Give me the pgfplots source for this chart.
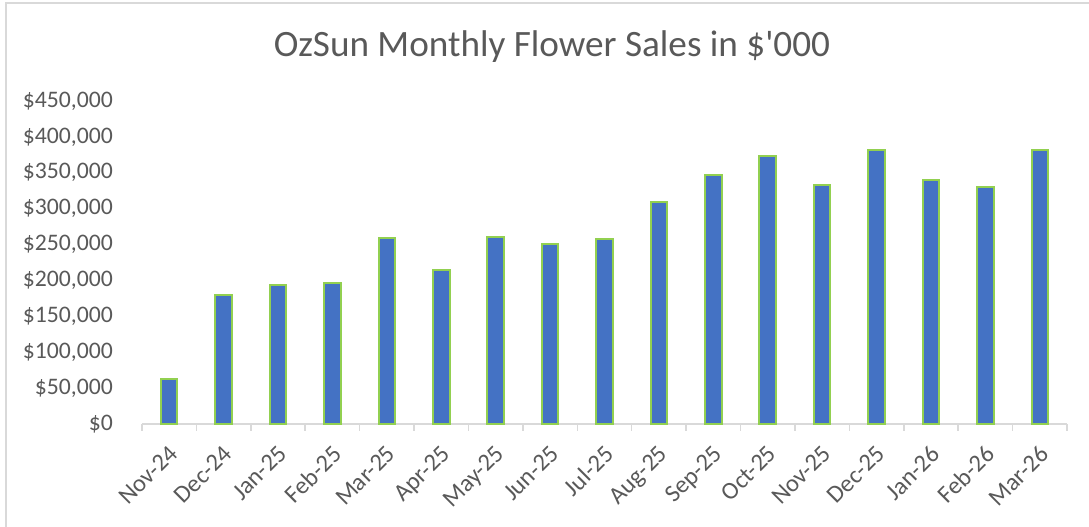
\documentclass[border=0pt]{standalone}
\usepackage{pgfplots}
\pgfplotsset{compat=1.18}
\usepackage{fontspec}
\setmainfont{Carlito}[Ligatures=TeXOff]
\definecolor{barblue}{HTML}{4472C4}
\definecolor{bargreen}{HTML}{92D050}
\definecolor{axisgray}{HTML}{D9D9D9}
\definecolor{textgray}{HTML}{595959}
\begin{document}
\begin{tikzpicture}
\path[use as bounding box] (0,0) rectangle (1089bp,527bp);
\draw[axisgray, line width=1.5bp] (6bp,0) -- (6bp,524bp) -- (1089bp,524bp);
\node[text=textgray, font=\fontsize{37.2bp}{44bp}\selectfont, anchor=center] at (552bp,480bp) {OzSun Monthly Flower Sales in \$'000};
\begin{axis}[
  at={(142bp,103bp)}, anchor=south west,
  scale only axis, width=925bp, height=323bp,
  xmin=-0.5, xmax=16.5, ymin=0, ymax=450000,
  axis x line*=bottom, axis y line*=left,
  x axis line style={draw=axisgray, line width=1.5bp, -},
  y axis line style={draw=none},
  xtick={0,...,16},
  xticklabels={Nov-24,Dec-24,Jan-25,Feb-25,Mar-25,Apr-25,May-25,Jun-25,Jul-25,Aug-25,Sep-25,Oct-25,Nov-25,Dec-25,Jan-26,Feb-26,Mar-26},
  minor xtick={-0.5,0.5,...,16.5},
  tick align=outside,
  major tick length=0pt,
  minor tick length=7bp,
  minor tick style={draw=axisgray, line width=1.5bp},
  ytick={0,50000,...,450000},
  yticklabels={{\$0},{\$50,000},{\$100,000},{\$150,000},{\$200,000},{\$250,000},{\$300,000},{\$350,000},{\$400,000},{\$450,000}},
  ticklabel style={text=textgray, font=\fontsize{24.5bp}{28bp}\selectfont},
  yticklabel style={anchor=east, inner sep=0pt, xshift=-29bp, font=\fontsize{23.7bp}{28bp}\selectfont},
  xticklabel style={rotate=45, anchor=north east, inner sep=0pt, xshift=-15bp, yshift=-13bp},
  scaled y ticks=false,
  clip=false,
]
\addplot[ybar, bar width=16.5bp, fill=barblue, draw=bargreen, line width=2bp] coordinates {
(0,62500) (1,179500) (2,193000) (3,196600) (4,259200) (5,213900) (6,260100) (7,250400) (8,257800)
(9,309000) (10,346600) (11,374000) (12,333300) (13,381400) (14,340200) (15,330000) (16,381400)
};
\end{axis}
\end{tikzpicture}
\end{document}
